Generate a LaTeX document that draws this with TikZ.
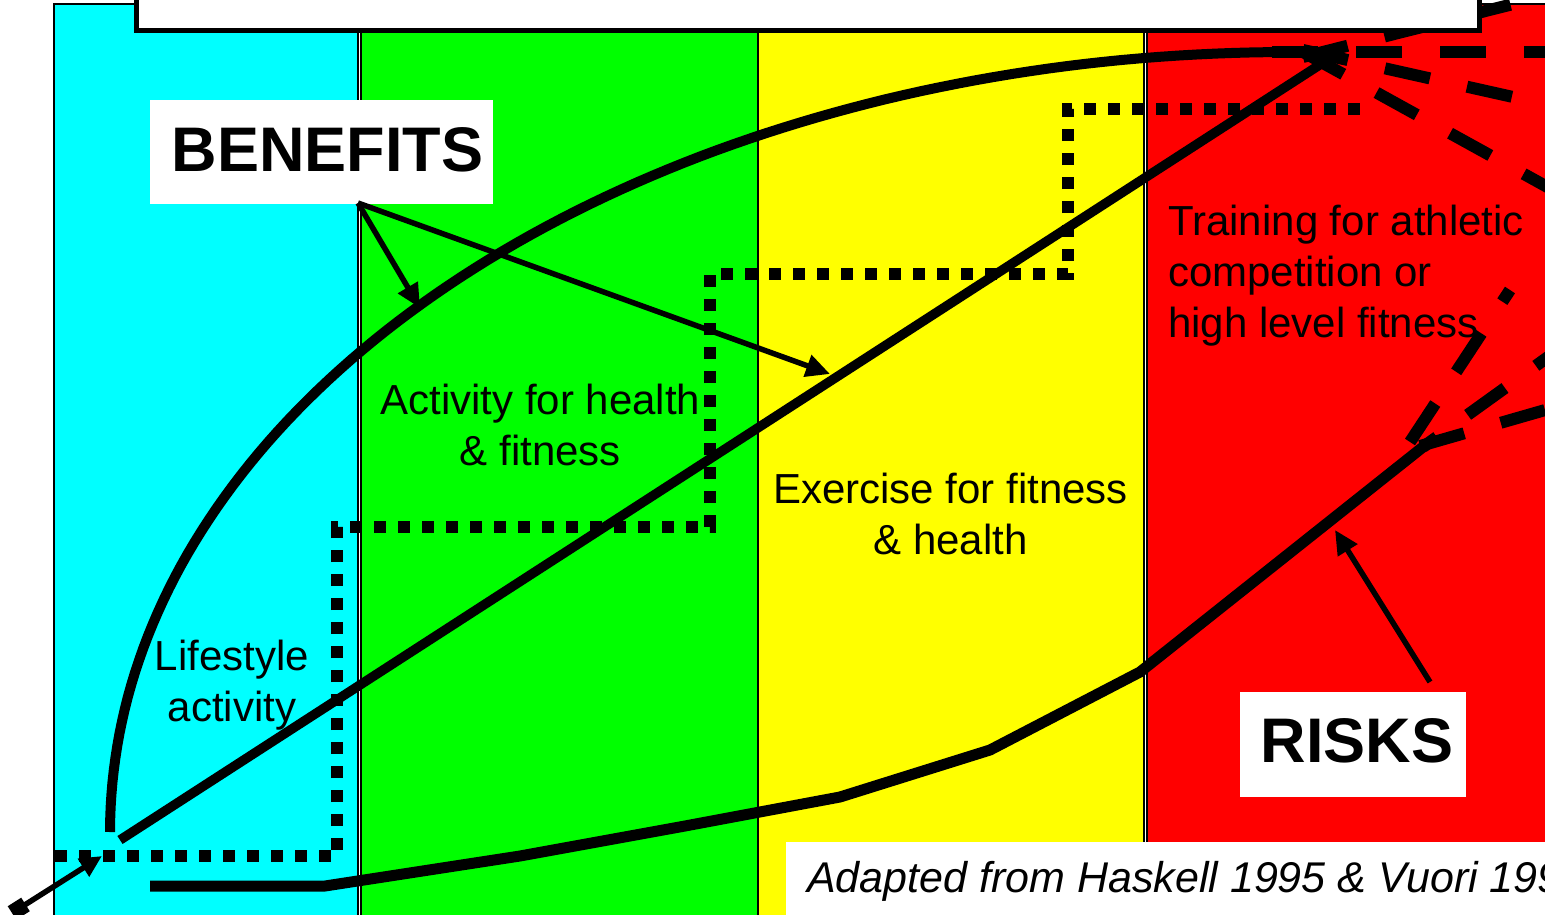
\documentclass[tikz,border=0pt]{standalone}
\usepackage{fontspec}
\setmainfont{Liberation Sans}
\usetikzlibrary{arrows.meta}
\definecolor{bandcyan}{RGB}{0,255,255}
\definecolor{bandgreen}{RGB}{0,255,0}
\definecolor{bandyellow}{RGB}{255,255,0}
\definecolor{bandred}{RGB}{255,0,0}
\newcommand\lstrut{\rule[-11pt]{0pt}{51pt}}
\begin{document}
\begin{tikzpicture}[x=1pt,y=-1pt,
  band/.style={draw=black,line width=1.5pt},
  dotline/.style={line width=12pt,dash pattern=on 12pt off 12pt},
  dashline/.style={line width=12pt,dash pattern=on 46pt off 38pt},
  pointer/.style={line width=5.5pt,-{Triangle[length=24pt,width=22pt]}},
  labelbox/.style={fill=white,inner sep=0pt,font=\bfseries\fontsize{63}{70}\selectfont},
  txt/.style={inner sep=0pt,align=center,font=\fontsize{42}{51}\selectfont}
]
\clip (0,0) rectangle (1545,915);
\fill[white] (0,0) rectangle (1545,915);
% bands
\filldraw[band,fill=bandcyan]   (54,4)   rectangle (358,940);
\filldraw[band,fill=bandgreen]  (361,4)  rectangle (758,940);
\filldraw[band,fill=bandyellow] (758,4)  rectangle (1144,940);
\filldraw[band,fill=bandred]    (1147,4) rectangle (1580,940);
% coordinates
\coordinate (d0) at (55,856);
\coordinate (d1) at (1370,109);
\coordinate (s0) at (120,840);
\coordinate (s1) at (1335,55);
\coordinate (k0) at (150,886);
\coordinate (k1) at (1423,447);
\coordinate (hub) at (1303,52);
% dotted staircase
\draw[dotline] (d0) -- (337,856) -- (337,527) -- (710,527) -- (710,274) -- (1068,274) -- (1068,109) -- (d1);
% benefits curve
\draw[line width=10pt] plot[domain=180:90,samples=100] ({1290+1180*cos(\x)},{832-780*sin(\x)});
% straight line
\draw[line width=9.5pt] (s0) -- (s1);
% risks polyline
\draw[line width=11pt] (k0) -- (325,886) -- (520,856) -- (685,826) -- (840,797) -- (990,750) -- (1140,672) -- (k1);
% dashed rays at top
\coordinate (u1) at (1545,-4);
\coordinate (h0) at (1272,52);
\coordinate (h1) at (1580,52);
\coordinate (ra1) at (1580,112);
\coordinate (rb1) at (1580,205);
\draw[dashline] ([yshift=-5pt]hub) -- (u1);
\draw[dashline] (h0) -- (h1);
\draw[dashline] ([yshift=2pt]hub) -- (ra1);
\draw[dashline] (hub) -- (rb1);
% dashed rays at the risks end
\coordinate (ka) at (1510,290);
\coordinate (kb) at (1580,334);
\coordinate (kc) at (1580,400);
\draw[dashline] ([xshift=-13pt,yshift=5pt]k1) -- (ka);
\draw[dashline,dash phase=29pt] (k1) -- (kb);
\draw[dashline] ([xshift=-3pt,yshift=1pt]k1) -- (kc);
% texts
\node (life) [txt,anchor=north] at (232,630) {\lstrut Lifestyle\\\lstrut activity};
\node (act) [txt,anchor=north] at (540.5,374) {\lstrut Activity for health\\\lstrut \& fitness};
\node (exe) [txt,anchor=north] at (950.5,463) {\lstrut Exercise for fitness\\\lstrut \& health};
\node (train) [txt,anchor=north west,align=left] at (1168,195) {\lstrut Training for athletic\\\lstrut competition or\\\lstrut high level fitness};
% labels
\node (ben) [labelbox,text depth=5pt,minimum width=343pt,minimum height=104pt] at (321.5,152) {\hspace*{12pt}BENEFITS};
\node (risk) [labelbox,text depth=8pt,minimum width=226pt,minimum height=105pt] at (1353,744.5) {\hspace*{8pt}RISKS};
\node (src) [fill=white,anchor=north west,inner xsep=21pt,inner ysep=0pt,text height=50pt,text depth=30pt,font=\itshape\fontsize{43}{51}\selectfont] at (786,842) {Adapted from Haskell 1995 \& Vuori 199};
% pointers
\coordinate (benout) at (358,203);
\coordinate (b1) at (420,308);
\coordinate (b2) at (830,374);
\coordinate (riskout) at (1430,682);
\coordinate (r2) at (1335,530);
\coordinate (q0) at (12,913);
\coordinate (q1) at (102,856);
\draw[pointer] (benout) -- (b1);
\draw[pointer] (benout) -- (b2);
\draw[pointer] (riskout) -- (r2);
\draw[line width=5.5pt,{Square[length=16pt,width=16pt]}-{Triangle[length=22pt,width=20pt]}] (q0) -- (q1);
% top box
\draw[line width=5pt,fill=white] (136,-20) rectangle (1479,30.5);
\end{tikzpicture}
\end{document}
